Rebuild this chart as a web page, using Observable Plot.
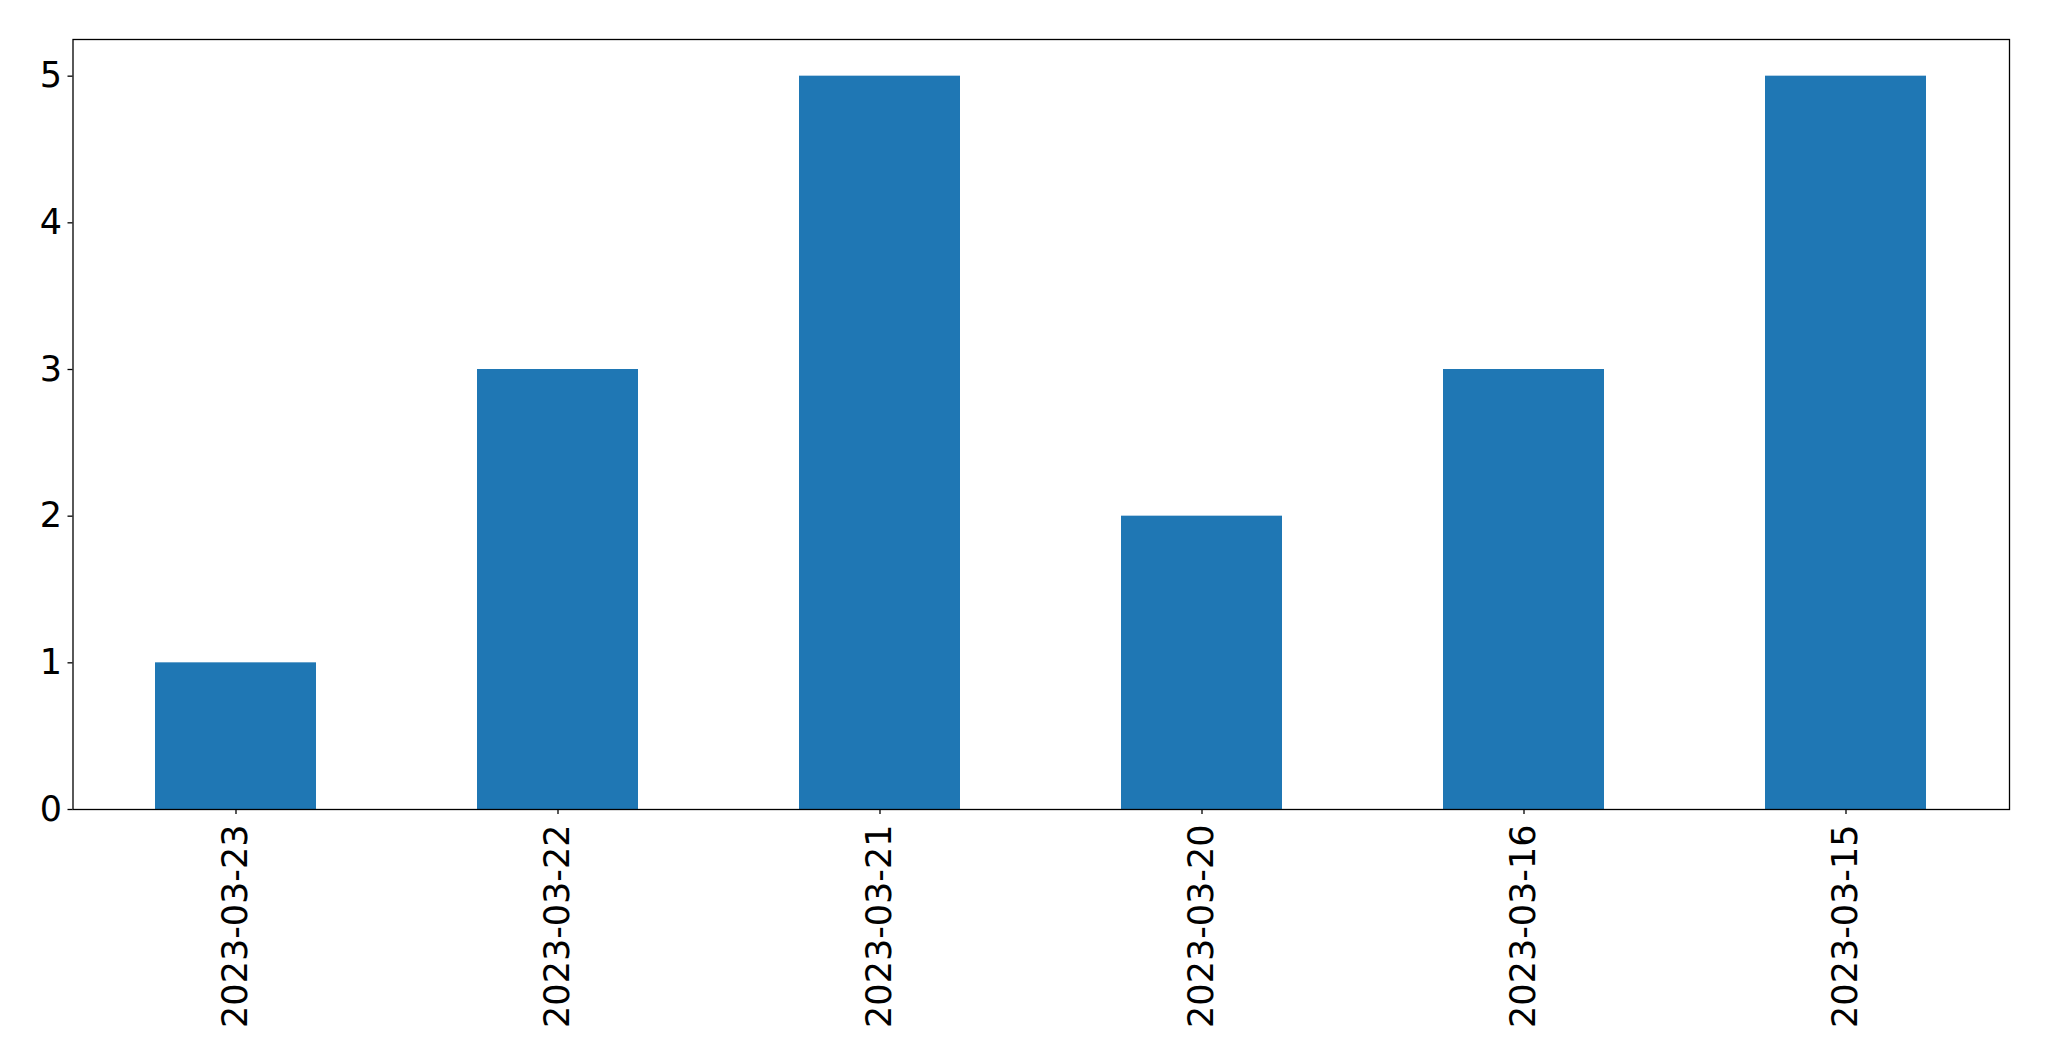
<!DOCTYPE html>
<html>
<head>
<meta charset="utf-8">
<script src="https://cdn.jsdelivr.net/npm/d3@7"></script>
<script src="https://cdn.jsdelivr.net/npm/@observablehq/plot@0.6"></script>
<style>
  html, body { margin: 0; padding: 0; background: #fff; }
  svg { display: block; }
</style>
</head>
<body>
<div id="chart"></div>
<script>
const dates = ["2023-03-23", "2023-03-22", "2023-03-21", "2023-03-20", "2023-03-16", "2023-03-15"];
const counts = [1, 3, 5, 2, 3, 5];
const yTicks = [0, 1, 2, 3, 4, 5];

const data = dates.map((d, i) => ({date: d, count: counts[i]}));

const chart = Plot.plot({
  width: 2049,
  height: 1061,
  marginLeft: 72.5,
  marginRight: 40,
  marginTop: 39,
  marginBottom: 252,
  style: {fontFamily: "DejaVu Sans", fontSize: "35px", color: "#000", background: "#fff"},
  x: {domain: dates, paddingInner: 0.5, paddingOuter: 0.25, label: null},
  y: {domain: [0, 5.25], label: null},
  marks: [
    Plot.barY(data, {x: "date", y: "count", fill: "#1f77b4"}),
    Plot.frame({stroke: "#000", strokeWidth: 1.3}),
    Plot.axisY({ticks: yTicks, tickSize: 5, tickPadding: 6, label: null, tickFormat: d => String(d), stroke: "#000", strokeWidth: 1.3}),
    Plot.axisX({tickSize: 5, tickPadding: 10, tickRotate: -90, label: null, stroke: "#000", strokeWidth: 1.3})
  ]
});
document.getElementById("chart").appendChild(chart);
</script>
</body>
</html>
